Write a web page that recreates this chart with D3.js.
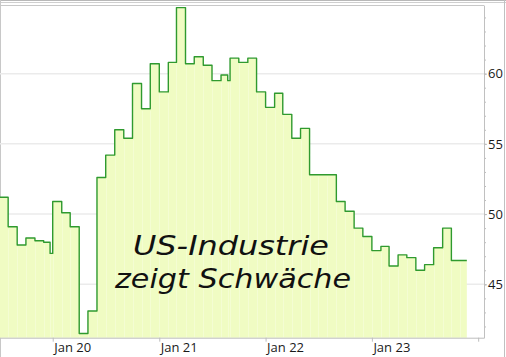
<!DOCTYPE html>
<html>
<head>
<meta charset="utf-8">
<script src="https://cdn.jsdelivr.net/npm/d3@7/dist/d3.min.js"></script>
<style>
  html, body { margin: 0; padding: 0; background: #fff; }
  svg { display: block; }
  text { font-family: "Open Sans", sans-serif; }
</style>
</head>
<body>
<svg id="chart" width="506" height="357"></svg>
<script>
// ---- data (ISM-type index, monthly steps) ----
const dates = [
  "2019-07-01","2019-08-01","2019-09-01","2019-10-01","2019-11-01","2019-12-01","2019-12-23",
  "2020-01-01","2020-02-01","2020-03-01","2020-04-01","2020-05-01","2020-06-01",
  "2020-07-01","2020-08-01","2020-09-01","2020-10-01","2020-11-01","2020-12-01",
  "2021-01-01","2021-02-01","2021-03-01","2021-04-01","2021-05-01","2021-06-01",
  "2021-07-01","2021-08-01","2021-08-24","2021-09-01","2021-10-01","2021-11-01","2021-12-01",
  "2022-01-01","2022-02-01","2022-03-01","2022-04-01","2022-05-01","2022-06-01",
  "2022-07-01","2022-08-01","2022-09-01","2022-10-01","2022-11-01","2022-12-01",
  "2023-01-01","2023-02-01","2023-03-01","2023-04-01","2023-05-01","2023-06-01",
  "2023-07-01","2023-08-01","2023-09-01","2023-10-01","2023-11-01","2023-11-23"
];
const values = [
  51.2, 49.1, 47.8, 48.3, 48.1, 48.0, 47.2,
  50.9, 50.1, 49.1, 41.5, 43.1, 52.6,
  54.2, 56.0, 55.4, 59.3, 57.5, 60.7,
  58.7, 60.8, 64.7, 60.7, 61.2, 60.6,
  59.5, 59.9, 59.5, 61.1, 60.8, 61.1, 58.7,
  57.6, 58.6, 57.1, 55.4, 56.1, 52.8,
  52.8, 52.8, 50.9, 50.2, 49.0, 48.4,
  47.4, 47.7, 46.3, 47.1, 46.9, 46.0,
  46.4, 47.6, 49.0, 46.7, 46.7, 46.7
];
const xTickDates = ["2020-01-01","2021-01-01","2022-01-01","2023-01-01","2024-01-01"];
const xTickLabels = ["Jan 20","Jan 21","Jan 22","Jan 23",""];
const yTicks = [45, 50, 55, 60];
const yMinorTicks = d3.range(42, 65, 1);
const annotation = ["US-Industrie", "zeigt Schwäche"];

// ---- setup ----
const parse = d3.utcParse("%Y-%m-%d");
const data = dates.map((d, i) => ({ date: parse(d), value: values[i] }));

const svg = d3.select("#chart");
const W = 506, H = 357;
const plot = { left: 0, top: 5.5, width: 484, height: 332.2 };

const x = d3.scaleUtc()
  .domain([parse("2019-07-04"), parse("2024-01-21")])
  .range([0, plot.width]);
const y = d3.scaleLinear()
  .domain([41.2, 64.85])
  .range([plot.height, 0]);

// outer frame
svg.append("line").attr("x1", 0).attr("x2", W).attr("y1", 0.5).attr("y2", 0.5).attr("stroke", "#b8b8b8");
svg.append("line").attr("x1", 0).attr("x2", W).attr("y1", 2.5).attr("y2", 2.5).attr("stroke", "#cfcfcf");
svg.append("line").attr("x1", 504.5).attr("x2", 504.5).attr("y1", 0).attr("y2", H).attr("stroke", "#c0c0c0");
svg.append("line").attr("x1", 0.5).attr("x2", 0.5).attr("y1", 0).attr("y2", H).attr("stroke", "#c8c8c8");

const g = svg.append("g").attr("transform", `translate(${plot.left},${plot.top})`);

// gridlines
g.append("g").selectAll("line").data(yTicks).join("line")
  .attr("x1", 0).attr("x2", plot.width)
  .attr("y1", d => y(d)).attr("y2", d => y(d))
  .attr("stroke", "#ebebeb").attr("stroke-width", 1.5);

// area
const area = d3.area()
  .x(d => x(d.date))
  .y0(plot.height)
  .y1(d => y(d.value))
  .curve(d3.curveStepAfter);
g.append("path").datum(data).attr("d", area).attr("fill", "#f0fcc3");

// faint monthly seams in the fill
g.append("g").selectAll("line").data(data.slice(1, -1)).join("line")
  .attr("x1", d => Math.round(x(d.date)) + 0.5).attr("x2", d => Math.round(x(d.date)) + 0.5)
  .attr("y1", (d, i) => y(Math.min(d.value, data[i].value)) + 2)
  .attr("y2", plot.height)
  .attr("stroke", "#ffffff").attr("stroke-opacity", 0.28).attr("stroke-width", 1);

// line
const line = d3.line()
  .x(d => x(d.date))
  .y(d => y(d.value))
  .curve(d3.curveStepAfter);
g.append("path").datum(data).attr("d", line)
  .attr("fill", "none").attr("stroke", "#2f9a2f").attr("stroke-width", 1.4)
  .attr("stroke-linejoin", "round");

// plot border (top)
g.append("line").attr("x1", 0).attr("x2", plot.width + 0.5).attr("y1", 0).attr("y2", 0).attr("stroke", "#c8c8c8");

// right axis minor ticks
const yMinor = g.append("g").attr("transform", `translate(${plot.width},0)`)
  .call(d3.axisRight(y).tickValues(yMinorTicks).tickSize(2).tickFormat(""));
yMinor.select(".domain").remove();
yMinor.selectAll("line").attr("stroke", "#bdbdbd");

// right axis major
const yAxis = g.append("g").attr("transform", `translate(${plot.width},0)`)
  .call(d3.axisRight(y).tickValues(yTicks).tickSize(3).tickPadding(1).tickSizeOuter(0));
yAxis.select(".domain").attr("stroke", "#c0c0c0");
yAxis.selectAll("line").attr("stroke", "#bdbdbd");
yAxis.selectAll("text").attr("fill", "#1a1a1a").style("font-size", "13px").style("font-family", "'Open Sans', sans-serif");

// bottom axis
const xAxis = g.append("g").attr("transform", `translate(0,${plot.height})`)
  .call(d3.axisBottom(x)
    .tickValues(xTickDates.map(parse))
    .tickSize(4)
    .tickSizeOuter(0)
    .tickFormat((d, i) => xTickLabels[i]));
xAxis.select(".domain").attr("stroke", "#bdbdbd");
xAxis.selectAll("line").attr("stroke", "#bdbdbd");
xAxis.selectAll("text")
  .attr("fill", "#1a1a1a")
  .attr("text-anchor", "start")
  .attr("x", 1).attr("y", 14.5).attr("dy", 0)
  .style("font-size", "13px").style("font-family", "'Open Sans', sans-serif");

// annotation
const annFont = "'DejaVu Sans', sans-serif";
const ann = svg.append("g");
ann.append("text").attr("x", 231).attr("y", 255).attr("text-anchor", "middle")
  .attr("textLength", 196).attr("lengthAdjust", "spacingAndGlyphs")
  .style("font-family", annFont)
  .style("font-size", "27px").style("font-style", "oblique").style("font-weight", 400)
  .attr("fill", "#111").text(annotation[0]);
ann.append("text").attr("x", 233).attr("y", 288).attr("text-anchor", "middle")
  .attr("textLength", 236).attr("lengthAdjust", "spacingAndGlyphs")
  .style("font-family", annFont)
  .style("font-size", "27px").style("font-style", "oblique").style("font-weight", 400)
  .attr("fill", "#111").text(annotation[1]);
</script>
</body>
</html>
